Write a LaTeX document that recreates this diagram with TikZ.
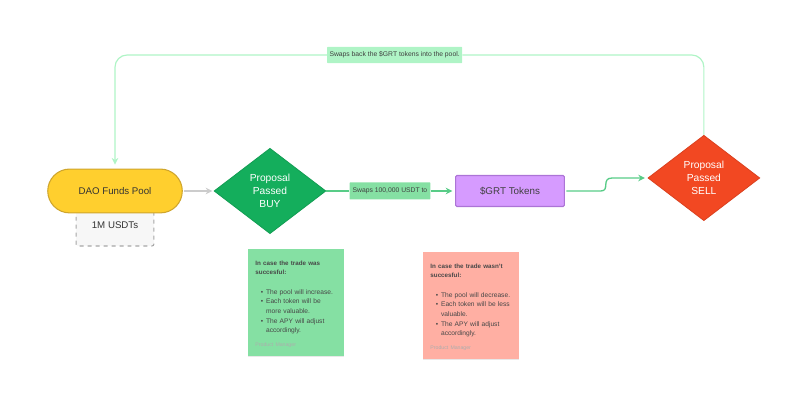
\documentclass[tikz,border=0pt]{standalone}
\usepackage{fontspec}
\setmainfont{Liberation Sans}
\usepackage{tikz}
\usetikzlibrary{arrows.meta, positioning, shapes, shadows}
\definecolor{PoolYellow}{HTML}{FFCF2E}
\definecolor{PoolEdge}{HTML}{CFA52C}
\definecolor{BuyGreen}{HTML}{14AE5C}
\definecolor{SellRed}{HTML}{F24822}
\definecolor{TokenPurple}{HTML}{D69BFF}
\definecolor{TokenEdge}{HTML}{AC74D6}
\definecolor{LabelGreen}{HTML}{85E0A3}
\definecolor{PaleGreen}{HTML}{AFF4C6}
\definecolor{NoteRed}{HTML}{FFAFA3}
\newcommand{\noteitem}[1]{\makebox[8pt][r]{\textbullet\hspace{2.2pt}}\mbox{#1}}
\newcommand{\notemore}[1]{\hspace{8pt}\mbox{#1}}
\newcommand{\notehead}[1]{{\fontsize{4.7}{7.25}\selectfont\bfseries #1}}

\begin{document}
\begin{tikzpicture}[node distance=1.8cm]
        \tikzstyle{decision} = [diamond, aspect=1.3, inner sep=0pt, minimum width=2.96cm, minimum height=2.26cm, text centered, align=center, text=white, font=\fontsize{7.7}{9.6}\selectfont, line width=0.6pt, execute at begin node={\rule{0pt}{8pt}}]
        \tikzstyle{swaplabel} = [rectangle, rounded corners=0.5pt, inner sep=0pt, text=black!75, font=\fontsize{5.1}{7}\selectfont]
        \tikzstyle{note} = [rectangle, minimum height=2.83cm, inner xsep=5.6pt, inner ysep=0pt, text width=61pt, align=left, text=black!72, font=\fontsize{5}{7.25}\selectfont, drop shadow={opacity=0.18, shadow xshift=0pt, shadow yshift=-1pt}, execute at begin node={\rule{0pt}{6pt}}]
        \tikzstyle{arrow} = [->, >={Stealth[length=5pt, width=5pt]}, line width=1pt, LabelGreen!60!BuyGreen]
        \useasboundingbox (0,0) rectangle (21.325,-10.927);

        % Nodes
        \node (usdt) at (3.043,-5.953) [rectangle, rounded corners=1.5pt, minimum width=2.06cm, minimum height=1.11cm, draw=black!35, dashed, line width=0.8pt, fill=black!3, text=black!80, font=\fontsize{7.3}{10}\selectfont] {1M USDTs};
        \node (pool) [above of=usdt, yshift=-0.9cm, rectangle, rounded corners=0.58cm, minimum width=3.56cm, minimum height=1.16cm, draw=PoolEdge, fill=PoolYellow, line width=0.8pt, text=black!80, font=\fontsize{7.3}{10}\selectfont] {DAO Funds Pool};
        \node (buy) [decision, right of=pool, xshift=2.3cm, draw=BuyGreen!90!black, fill=BuyGreen] {Proposal\\Passed\\BUY};
        \node (swapto) [swaplabel, right of=buy, xshift=1.375cm, minimum width=2.14cm, minimum height=0.45cm, fill=LabelGreen] {Swaps 100,000 USDT to};
        \node (tokens) [right of=swapto, xshift=1.375cm, rectangle, rounded corners=1pt, minimum width=2.88cm, minimum height=0.82cm, draw=TokenEdge, fill=TokenPurple, line width=0.8pt, text=black!75, font=\fontsize{7.4}{10}\selectfont] {\$GRT Tokens};
        \node (sell) [decision, right of=tokens, xshift=3.33cm, yshift=0.344cm, draw=SellRed!90!black, fill=SellRed] {Proposal\\Passed\\SELL};
        \node (swapback) at (10.44,-1.455) [swaplabel, minimum width=3.57cm, minimum height=0.43cm, fill=PaleGreen] {Swaps back the \$GRT tokens into the pool.};

        % Notes
        \node (goodnote) [note, below of=buy, xshift=0.688cm, yshift=-1.15cm, fill=LabelGreen] {\notehead{In case the trade was\\succesful:}\\[7.2pt]
            \noteitem{The pool will increase.}\\
            \noteitem{Each token will be}\\
            \notemore{more valuable.}\\
            \noteitem{The APY will adjust}\\
            \notemore{accordingly.}\\[3.2pt]
            {\fontsize{3.9}{5}\selectfont\color{black!32}Product Manager}};
        \node (badnote) [note, right of=goodnote, xshift=2.83cm, yshift=-0.08cm, fill=NoteRed] {\notehead{In case the trade wasn't\\succesful:}\\[7.2pt]
            \noteitem{The pool will decrease.}\\
            \noteitem{Each token will be less}\\
            \notemore{valuable.}\\
            \noteitem{The APY will adjust}\\
            \notemore{accordingly.}\\[3.2pt]
            {\fontsize{3.9}{5}\selectfont\color{black!32}Product Manager}};

        % Arrows
        \draw [arrow, black!20, shorten >=1pt, shorten <=1pt] (pool) -- (buy);
        \draw [arrow, -] (buy) -- (swapto);
        \draw [arrow, shorten >=2pt] (swapto) -- (tokens);
        \draw [arrow, shorten >=2pt, shorten <=1pt] (tokens.east) -- ++(0.95,0) .. controls +(0.25,0) and +(-0.3,0) .. ++(0.3,0.344) -- (sell.west);

        % Return line
        \draw [PaleGreen, line width=0.9pt, rounded corners=0.32cm] (sell.north) |- (swapback.east);
        \draw [->, >={Stealth[length=5pt, width=5pt]}, PaleGreen, line width=0.9pt, rounded corners=0.32cm, shorten >=3pt] (swapback.west) -| (pool.north);
    \end{tikzpicture}
\end{document}
